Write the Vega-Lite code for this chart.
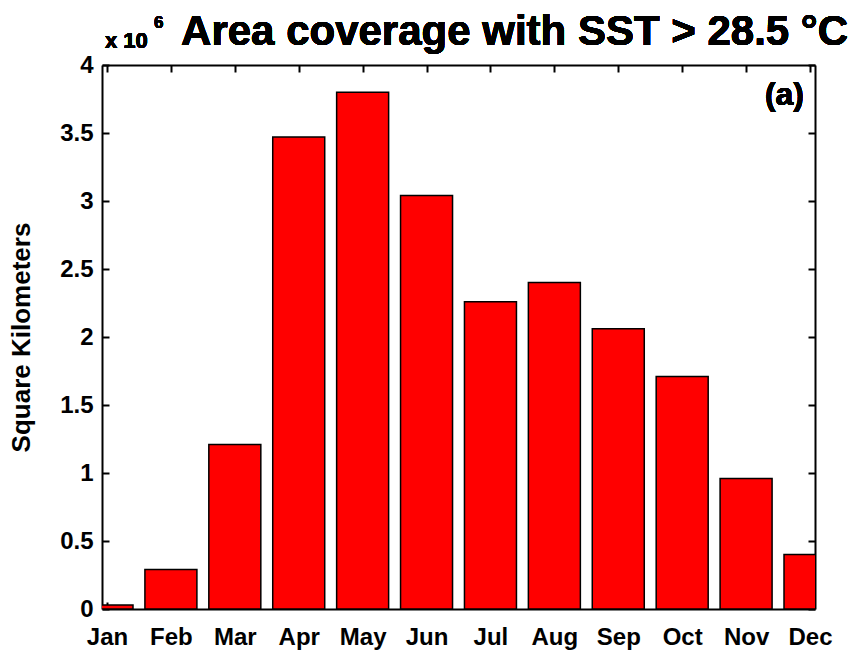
{
  "$schema": "https://vega.github.io/schema/vega-lite/v6.json",
  "width": 713,
  "height": 544,
  "autosize": "none",
  "padding": {"left": 102, "top": 65, "right": 41, "bottom": 42},
  "background": "white",
  "config": {
    "font": "Liberation Sans",
    "view": {"stroke": null},
    "axis": {
      "domainColor": "black",
      "domainWidth": 2,
      "tickColor": "black",
      "tickWidth": 2,
      "tickSize": -7,
      "grid": false,
      "labelFont": "Liberation Sans",
      "labelFontWeight": "bold",
      "labelFontSize": 24,
      "labelColor": "black",
      "titleFont": "Liberation Sans",
      "titleFontWeight": "bold",
      "titleColor": "black"
    }
  },
  "data": {
    "values": [
      {"m": 1, "month": "Jan", "v": 0.03},
      {"m": 2, "month": "Feb", "v": 0.29},
      {"m": 3, "month": "Mar", "v": 1.21},
      {"m": 4, "month": "Apr", "v": 3.47},
      {"m": 5, "month": "May", "v": 3.80},
      {"m": 6, "month": "Jun", "v": 3.04},
      {"m": 7, "month": "Jul", "v": 2.26},
      {"m": 8, "month": "Aug", "v": 2.40},
      {"m": 9, "month": "Sep", "v": 2.06},
      {"m": 10, "month": "Oct", "v": 1.71},
      {"m": 11, "month": "Nov", "v": 0.96},
      {"m": 12, "month": "Dec", "v": 0.40}
    ]
  },
  "layer": [
    {
      "mark": {"type": "bar", "width": 52, "clip": true, "fill": "#ff0000", "stroke": "black", "strokeWidth": 1.5},
      "encoding": {
        "x": {
          "field": "m", "type": "quantitative",
          "scale": {"domain": [1, 12], "nice": false, "zero": false},
          "axis": {
            "orient": "bottom", "title": null,
            "values": [1, 2, 3, 4, 5, 6, 7, 8, 9, 10, 11, 12],
            "labelExpr": "['Jan','Feb','Mar','Apr','May','Jun','Jul','Aug','Sep','Oct','Nov','Dec'][datum.value - 1]",
            "labelPadding": 23,
            "labelFlush": false,
            "labelOverlap": false
          }
        },
        "y": {
          "field": "v", "type": "quantitative",
          "scale": {"domain": [0, 4], "nice": false},
          "axis": {
            "orient": "left",
            "title": "Square Kilometers",
            "titleFontSize": 26,
            "titleX": -68,
            "values": [0, 0.5, 1, 1.5, 2, 2.5, 3, 3.5, 4],
            "format": ".1~f",
            "labelPadding": 16,
            "labelFlush": false,
            "labelOverlap": false
          }
        }
      }
    },
    {
      "mark": {"type": "point", "opacity": 0},
      "encoding": {
        "x": {
          "field": "m", "type": "quantitative",
          "axis": {"orient": "top", "title": null, "labels": false, "values": [1, 2, 3, 4, 5, 6, 7, 8, 9, 10, 11, 12]}
        },
        "y": {
          "field": "v", "type": "quantitative",
          "axis": {"orient": "right", "title": null, "labels": false, "values": [0, 0.5, 1, 1.5, 2, 2.5, 3, 3.5, 4]}
        }
      }
    },
    {
      "mark": {"type": "text", "text": "Area coverage with SST > 28.5 °C", "align": "right", "baseline": "alphabetic", "fontSize": 42, "fontWeight": "bold", "dx": 38, "dy": -20, "color": "black"},
      "encoding": {"x": {"datum": 12, "axis": null}, "y": {"datum": 4, "axis": null}}
    },
    {
      "mark": {"type": "text", "text": "x 10", "align": "left", "baseline": "alphabetic", "fontSize": 22, "fontWeight": "bold", "dx": -2, "dy": -17, "color": "black"},
      "encoding": {"x": {"datum": 1, "axis": null}, "y": {"datum": 4, "axis": null}}
    },
    {
      "mark": {"type": "text", "text": "6", "align": "left", "baseline": "alphabetic", "fontSize": 17, "fontWeight": "bold", "dx": 47, "dy": -37, "color": "black"},
      "encoding": {"x": {"datum": 1, "axis": null}, "y": {"datum": 4, "axis": null}}
    },
    {
      "mark": {"type": "text", "text": "(a)", "align": "right", "baseline": "alphabetic", "fontSize": 32, "fontWeight": "bold", "dx": -6, "dy": 40, "color": "black"},
      "encoding": {"x": {"datum": 12, "axis": null}, "y": {"datum": 4, "axis": null}}
    }
  ],
  "resolve": {"axis": {"x": "independent", "y": "independent"}}
}
